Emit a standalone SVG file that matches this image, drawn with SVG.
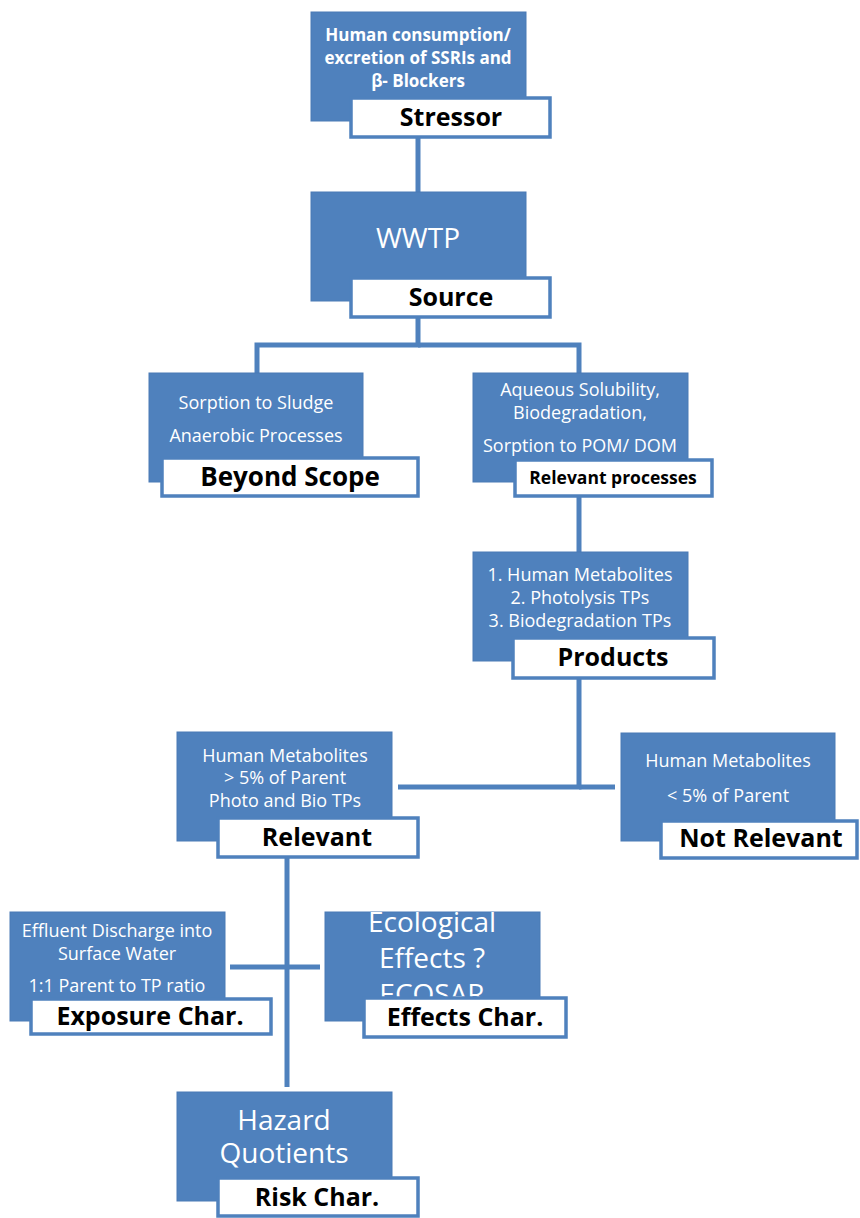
<svg xmlns="http://www.w3.org/2000/svg" width="860" height="1218" viewBox="0 0 860 1218">
<style>
.box{fill:#4F81BD;stroke:#4A7AB5;stroke-width:1}
.lab{fill:#FFFFFF;stroke:#4F81BD;stroke-width:3.5}
.t{font-family:"Open Sans","Liberation Sans",sans-serif;fill:#FFFFFF;text-anchor:middle}
.tb{font-family:"Open Sans","Liberation Sans",sans-serif;font-weight:bold;fill:#FFFFFF;text-anchor:middle;font-size:17px}
.l{font-family:"Open Sans","Liberation Sans",sans-serif;font-weight:bold;fill:#000000;text-anchor:middle;font-size:25px}
.s16{font-size:18px}
.s26{font-size:28px}
.c{fill:none;stroke:#4F81BD;stroke-width:5}
</style>
<defs>
<clipPath id="clipEff"><rect x="325" y="912" width="215" height="109"/></clipPath>
</defs>
<g id="connectors">
<line class="c" x1="418" y1="136" x2="418" y2="192"/>
<polyline class="c" points="418,316 418,345 257,345 257,373"/>
<polyline class="c" points="418,345 579,345 579,373"/>
<line class="c" x1="579" y1="497" x2="579" y2="552"/>
<polyline class="c" points="579,679 579,787 398,787"/>
<line class="c" x1="579" y1="787" x2="615" y2="787"/>
<line class="c" x1="287" y1="858" x2="287" y2="1087"/>
<line class="c" x1="230" y1="967" x2="320" y2="967"/>
</g>
<g id="stressor">
<rect class="box" x="311" y="12" width="215" height="109"/>
<text class="tb" x="418" y="41">Human consumption/</text>
<text class="tb" x="418" y="64">excretion of SSRIs and</text>
<text class="tb" x="418" y="87">β- Blockers</text>
<rect class="lab" x="351" y="98" width="199" height="39"/>
<text class="l" x="451" y="126">Stressor</text>
</g>
<g id="source">
<rect class="box" x="311" y="192" width="215" height="109"/>
<text class="t s26" x="418" y="248">WWTP</text>
<rect class="lab" x="351" y="278" width="199" height="39"/>
<text class="l" x="451" y="306">Source</text>
</g>
<g id="beyond-scope">
<rect class="box" x="149" y="373" width="214" height="109"/>
<text class="t s16" x="256" y="409">Sorption to Sludge</text>
<text class="t s16" x="256" y="442">Anaerobic Processes</text>
<rect class="lab" x="162" y="458" width="256" height="38"/>
<text class="l" x="290" y="486" style="font-size:26px">Beyond Scope</text>
</g>
<g id="relevant-processes">
<rect class="box" x="473" y="373" width="215" height="109"/>
<text class="t s16" x="580" y="396">Aqueous Solubility,</text>
<text class="t s16" x="580" y="419">Biodegradation,</text>
<text class="t s16" x="580" y="452">Sorption to POM/ DOM</text>
<rect class="lab" x="515" y="460" width="197" height="36"/>
<text class="tb" x="613" y="484" style="fill:#000000;font-size:17.5px">Relevant processes</text>
</g>
<g id="products">
<rect class="box" x="473" y="552" width="215" height="109"/>
<text class="t s16" x="580" y="581">1. Human Metabolites</text>
<text class="t s16" x="580" y="604">2. Photolysis TPs</text>
<text class="t s16" x="580" y="627">3. Biodegradation TPs</text>
<rect class="lab" x="513" y="638" width="201" height="40"/>
<text class="l" x="613" y="666">Products</text>
</g>
<g id="relevant">
<rect class="box" x="177" y="732" width="215" height="109"/>
<text class="t s16" x="285" y="762">Human Metabolites</text>
<text class="t s16" x="285" y="784">&gt; 5% of Parent</text>
<text class="t s16" x="285" y="807">Photo and Bio TPs</text>
<rect class="lab" x="218" y="818" width="200" height="39"/>
<text class="l" x="317" y="846">Relevant</text>
</g>
<g id="not-relevant">
<rect class="box" x="621" y="733" width="214" height="108"/>
<text class="t s16" x="728" y="767">Human Metabolites</text>
<text class="t s16" x="728" y="802">&lt; 5% of Parent</text>
<rect class="lab" x="661" y="821" width="196" height="37"/>
<text class="l" x="761" y="847">Not Relevant</text>
</g>
<g id="exposure">
<rect class="box" x="10" y="912" width="215" height="109"/>
<text class="t s16" x="117" y="937">Effluent Discharge into</text>
<text class="t s16" x="117" y="960">Surface Water</text>
<text class="t s16" x="117" y="992">1:1 Parent to TP ratio</text>
<rect class="lab" x="31" y="999" width="240" height="35"/>
<text class="l" x="150" y="1025">Exposure Char.</text>
</g>
<g id="effects">
<rect class="box" x="325" y="912" width="215" height="109"/>
<g clip-path="url(#clipEff)">
<text class="t s26" x="432" y="932">Ecological</text>
<text class="t s26" x="432" y="968">Effects ?</text>
<text class="t s26" x="432" y="1004">ECOSAR</text>
</g>
<rect class="lab" x="364" y="998" width="202" height="39"/>
<text class="l" x="465" y="1026">Effects Char.</text>
</g>
<g id="risk">
<rect class="box" x="177" y="1092" width="215" height="109"/>
<text class="t s26" x="284" y="1130">Hazard</text>
<text class="t s26" x="284" y="1163">Quotients</text>
<rect class="lab" x="218" y="1178" width="200" height="38"/>
<text class="l" x="317" y="1206">Risk Char.</text>
</g>
</svg>
